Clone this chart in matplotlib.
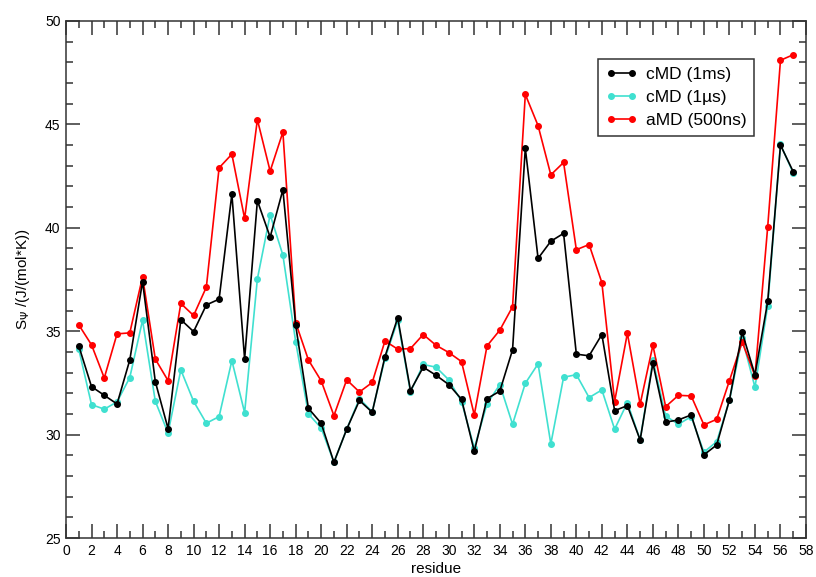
import matplotlib.pyplot as plt
import numpy as np
from matplotlib.ticker import MultipleLocator

plt.rcParams['font.family'] = ['Liberation Sans', 'DejaVu Sans']

residue = np.arange(1, 58)

# cMD (1ms)
cmd_1ms = [34.29, 32.32, 31.90, 31.48, 33.61, 37.40, 32.56, 30.29, 35.56, 34.98,
           36.27, 36.55, 41.63, 33.66, 41.31, 39.55, 41.84, 35.29, 31.27, 30.55,
           28.66, 30.26, 31.65, 31.08, 33.77, 35.65, 32.13, 33.26, 32.87, 32.42,
           31.71, 29.19, 31.74, 32.10, 34.10, 43.85, 38.52, 39.35, 39.73, 33.89,
           33.81, 34.84, 31.16, 31.40, 29.74, 33.45, 30.60, 30.71, 30.95, 29.02,
           29.50, 31.68, 34.94, 32.89, 36.44, 44.00, 42.71]

# cMD (1us)
cmd_1us = [34.13, 31.45, 31.23, 31.58, 32.76, 35.53, 31.61, 30.08, 33.13, 31.61,
           30.55, 30.87, 33.58, 31.06, 37.53, 40.63, 38.68, 34.50, 31.00, 30.32,
           28.66, 30.26, 31.74, 31.10, 33.68, 35.52, 32.06, 33.39, 33.26, 32.65,
           31.60, 29.35, 31.48, 32.42, 30.50, 32.48, 33.42, 29.55, 32.77, 32.90,
           31.79, 32.16, 30.26, 31.55, 29.74, 33.61, 30.90, 30.50, 30.87, 29.15,
           29.66, 31.65, 34.65, 32.29, 36.23, 44.03, 42.65]

# aMD (500ns)
amd_500ns = [35.31, 34.34, 32.74, 34.87, 34.92, 37.63, 33.65, 32.61, 36.34, 35.76,
             37.13, 42.90, 43.56, 40.45, 45.23, 42.74, 44.63, 35.42, 33.61, 32.60,
             30.92, 32.65, 32.06, 32.52, 34.53, 34.13, 34.16, 34.84, 34.32, 33.97,
             33.53, 30.95, 34.29, 35.05, 36.18, 46.45, 44.94, 42.56, 43.16, 38.94,
             39.19, 37.35, 31.60, 34.90, 31.47, 34.32, 31.35, 31.90, 31.87, 30.47,
             30.74, 32.61, 34.48, 32.84, 40.06, 48.10, 48.37]

fig = plt.figure(figsize=(8.16, 5.77), dpi=100)
ax = fig.add_axes([66 / 816, 1 - 538 / 577, 740 / 816, 517 / 577])

ax.plot(residue, cmd_1us, '-o', color='#40E0D0', lw=1.2, ms=4, label='cMD (1\u00b5s)', zorder=2)
ax.plot(residue, amd_500ns, '-o', color='#FF0000', lw=1.2, ms=4, label='aMD (500ns)', zorder=3)
ax.plot(residue, cmd_1ms, '-o', color='black', lw=1.2, ms=4, label='cMD (1ms)', zorder=4)

ax.set_xlim(0, 58)
ax.set_ylim(25, 50)
ax.xaxis.set_major_locator(MultipleLocator(2))
ax.xaxis.set_minor_locator(MultipleLocator(1))
ax.yaxis.set_major_locator(MultipleLocator(5))
ax.yaxis.set_minor_locator(MultipleLocator(1))
ax.tick_params(which='both', direction='in', top=True, right=True,
               width=1.1, color='#333333', labelsize=10)
ax.tick_params(which='major', length=10, pad=4)
ax.tick_params(which='minor', length=5)
for s in ax.spines.values():
    s.set_linewidth(1.1)
    s.set_color('#333333')

ax.set_xlabel('residue', fontsize=11, labelpad=3)
ax.set_ylabel(r'S$_\Psi$ /(J/(mol*K))', fontsize=11, labelpad=9)

h, l = ax.get_legend_handles_labels()
order = [2, 0, 1]
leg = ax.legend([h[i] for i in order], [l[i] for i in order],
                loc='upper left', bbox_to_anchor=(0.719, 0.926), borderaxespad=0,
                fontsize=12.5, numpoints=2, handlelength=1.8, handletextpad=0.5,
                fancybox=False, framealpha=1, borderpad=0.45, labelspacing=0.45)
leg.get_frame().set_edgecolor('#333333')
leg.get_frame().set_linewidth(1.1)

fig.savefig('out.png', dpi=100)
